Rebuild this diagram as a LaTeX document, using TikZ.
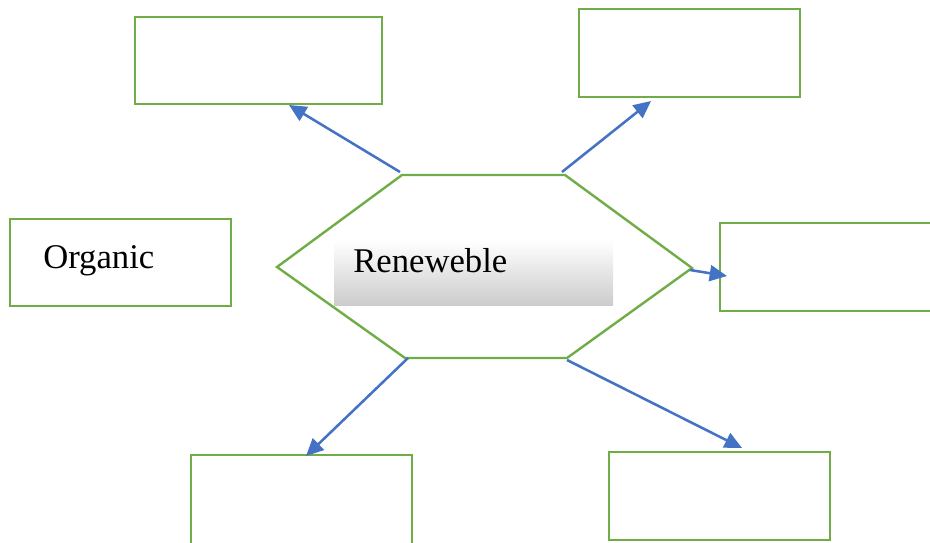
\documentclass[tikz,border=0pt]{standalone}
\usepackage{fontspec}
\setmainfont{Liberation Serif}
\usetikzlibrary{arrows.meta}
\definecolor{grn}{HTML}{70AD47}
\definecolor{blu}{HTML}{4472C4}
\tikzset{
  box/.style={draw=grn, line width=2.2pt, rectangle, inner sep=0pt},
  hexline/.style={draw=grn, line width=1.8pt, line join=miter},
  arr/.style={draw=blu, line width=1.9pt, -{Triangle[length=13pt,width=12pt]}},
  lbl/.style={font=\fontsize{26}{30}\selectfont, inner sep=0pt, anchor=base west}
}
\begin{document}
\begin{tikzpicture}[x=0.75pt,y=-0.75pt]
\useasboundingbox (0,0) rectangle (930,542);
% boxes
\node[box, minimum width=247*0.75pt, minimum height=87*0.75pt] (tl) at (258.5,60.5) {};
\node[box, minimum width=221*0.75pt, minimum height=88*0.75pt] (tr) at (689.5,53) {};
\node[box, minimum width=221*0.75pt, minimum height=87*0.75pt] (org) at (120.5,262.5) {};
\node[box, minimum width=230*0.75pt, minimum height=88*0.75pt] (rt) at (835,267) {};
\node[box, minimum width=221*0.75pt, minimum height=105*0.75pt] (bl) at (301.5,507.5) {};
\node[box, minimum width=221*0.75pt, minimum height=88*0.75pt] (br) at (719.5,496) {};
\node[lbl] (orgtxt) at (43,268) {Organic};
% hexagon
\coordinate (h1) at (277,267);
\coordinate (h2) at (402,175);
\coordinate (h3) at (565,175);
\coordinate (h4) at (692,268);
\coordinate (h5) at (567,358);
\coordinate (h6) at (405,358);
\draw[hexline] (h1) -- (h2) -- (h3) -- (h4) -- (h5) -- (h6) -- cycle;
% shaded rectangle
\node[rectangle, inner sep=0pt, minimum width=279*0.75pt, minimum height=65*0.75pt,
  top color=white, middle color=white!97!black, bottom color=white!80!black] (ren) at (473.5,272.5) {};
\node[lbl] (rentxt) at (353,272) {Reneweble};
% arrow endpoints
\coordinate (a1s) at (400,172); \coordinate (a1e) at (289,105);
\coordinate (a2s) at (562,172); \coordinate (a2e) at (651,101);
\coordinate (a3s) at (690,270); \coordinate (a3e) at (727,276);
\coordinate (a4s) at (408,358); \coordinate (a4e) at (306,456);
\coordinate (a5s) at (567,360); \coordinate (a5e) at (742,448);
\draw[arr] (a1s) -- (a1e);
\draw[arr] (a2s) -- (a2e);
\draw[arr] (a3s) -- (a3e);
\draw[arr] (a4s) -- (a4e);
\draw[arr] (a5s) -- (a5e);
\end{tikzpicture}
\end{document}
